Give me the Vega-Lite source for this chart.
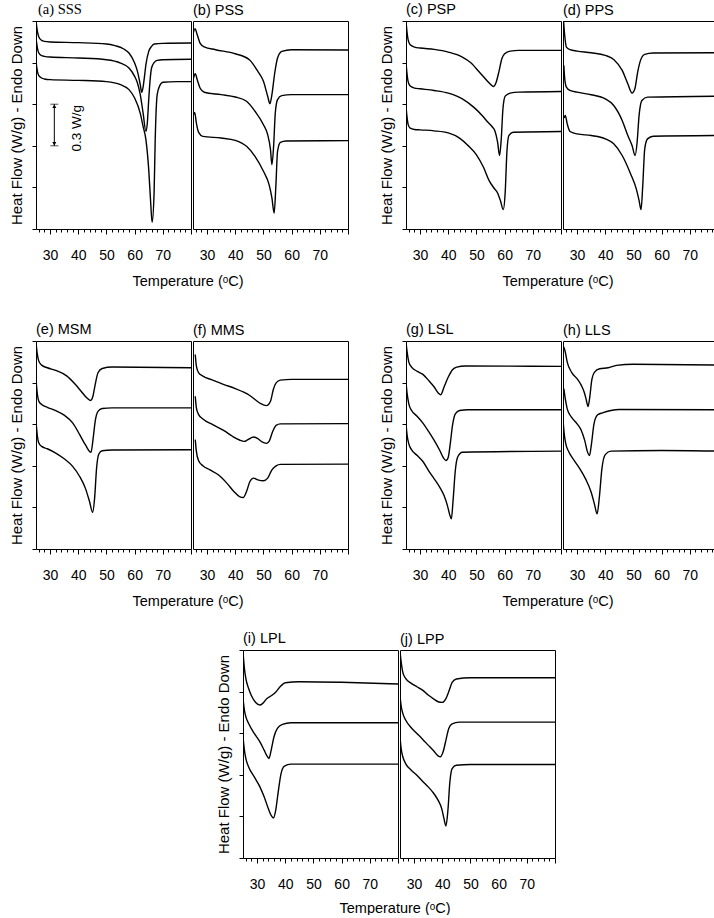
{
"$schema": "https://vega.github.io/schema/vega-lite/v6.json",
"background": "white",
"padding": {"left": 9, "top": 1, "right": 0, "bottom": 0},
"config": {
 "font": "Liberation Sans",
 "view": {"stroke": "black", "strokeWidth": 1},
 "axis": {"domain": false, "grid": false, "tickColor": "black", "labelColor": "black", "titleColor": "black", "titleFontWeight": "normal", "labelFont": "Liberation Sans", "titleFont": "Liberation Sans", "tickWidth": 1},
 "title": {"anchor": "start", "frame": "group", "fontSize": 14.5, "fontWeight": "normal", "font": "Liberation Sans", "offset": 3, "color": "black"}
},
"datasets": {
"dsc": [
{"panel":"a","run":1,"T":25,"hf":1.5},{"panel":"a","run":1,"T":25.5,"hf":1.425},{"panel":"a","run":1,"T":26,"hf":1.385},{"panel":"a","run":1,"T":27,"hf":1.36},{"panel":"a","run":1,"T":28,"hf":1.353},{"panel":"a","run":1,"T":30,"hf":1.349},{"panel":"a","run":1,"T":40,"hf":1.344},{"panel":"a","run":1,"T":50,"hf":1.334},{"panel":"a","run":1,"T":53,"hf":1.322},{"panel":"a","run":1,"T":56,"hf":1.3},{"panel":"a","run":1,"T":58,"hf":1.269},{"panel":"a","run":1,"T":60,"hf":1.197},{"panel":"a","run":1,"T":61,"hf":1.137},{"panel":"a","run":1,"T":62,"hf":1.041},{"panel":"a","run":1,"T":62.5,"hf":0.986},{"panel":"a","run":1,"T":63,"hf":1.024},{"panel":"a","run":1,"T":63.5,"hf":1.101},{"panel":"a","run":1,"T":64,"hf":1.185},{"panel":"a","run":1,"T":65,"hf":1.281},{"panel":"a","run":1,"T":66,"hf":1.317},{"panel":"a","run":1,"T":67,"hf":1.334},{"panel":"a","run":1,"T":70,"hf":1.339},{"panel":"a","run":1,"T":80,"hf":1.341},
{"panel":"a","run":2,"T":25,"hf":1.377},{"panel":"a","run":2,"T":25.5,"hf":1.305},{"panel":"a","run":2,"T":26,"hf":1.269},{"panel":"a","run":2,"T":27,"hf":1.25},{"panel":"a","run":2,"T":28,"hf":1.245},{"panel":"a","run":2,"T":30,"hf":1.24},{"panel":"a","run":2,"T":40,"hf":1.233},{"panel":"a","run":2,"T":50,"hf":1.221},{"panel":"a","run":2,"T":55,"hf":1.197},{"panel":"a","run":2,"T":58,"hf":1.161},{"panel":"a","run":2,"T":60,"hf":1.101},{"panel":"a","run":2,"T":61,"hf":1.053},{"panel":"a","run":2,"T":62,"hf":0.969},{"panel":"a","run":2,"T":63,"hf":0.837},{"panel":"a","run":2,"T":64,"hf":0.704},{"panel":"a","run":2,"T":64.5,"hf":0.764},{"panel":"a","run":2,"T":65,"hf":0.933},{"panel":"a","run":2,"T":65.5,"hf":1.077},{"panel":"a","run":2,"T":66,"hf":1.161},{"panel":"a","run":2,"T":67,"hf":1.202},{"panel":"a","run":2,"T":68,"hf":1.216},{"panel":"a","run":2,"T":70,"hf":1.221},{"panel":"a","run":2,"T":80,"hf":1.224},
{"panel":"a","run":3,"T":25,"hf":1.207},{"panel":"a","run":3,"T":25.5,"hf":1.137},{"panel":"a","run":3,"T":26,"hf":1.106},{"panel":"a","run":3,"T":27,"hf":1.089},{"panel":"a","run":3,"T":28,"hf":1.082},{"panel":"a","run":3,"T":30,"hf":1.077},{"panel":"a","run":3,"T":40,"hf":1.072},{"panel":"a","run":3,"T":50,"hf":1.063},{"panel":"a","run":3,"T":55,"hf":1.041},{"panel":"a","run":3,"T":58,"hf":1.005},{"panel":"a","run":3,"T":60,"hf":0.945},{"panel":"a","run":3,"T":62,"hf":0.834},{"panel":"a","run":3,"T":63,"hf":0.74},{"panel":"a","run":3,"T":64,"hf":0.644},{"panel":"a","run":3,"T":65,"hf":0.428},{"panel":"a","run":3,"T":65.7,"hf":0.188},{"panel":"a","run":3,"T":66.2,"hf":0.048},{"panel":"a","run":3,"T":66.9,"hf":0.26},{"panel":"a","run":3,"T":67.3,"hf":0.644},{"panel":"a","run":3,"T":68,"hf":0.969},{"panel":"a","run":3,"T":69,"hf":1.038},{"panel":"a","run":3,"T":70,"hf":1.058},{"panel":"a","run":3,"T":75,"hf":1.063},{"panel":"a","run":3,"T":80,"hf":1.063},
{"panel":"b","run":1,"T":25.1,"hf":1.413},{"panel":"b","run":1,"T":25.7,"hf":1.445},{"panel":"b","run":1,"T":26.5,"hf":1.401},{"panel":"b","run":1,"T":27.5,"hf":1.341},{"panel":"b","run":1,"T":29,"hf":1.313},{"panel":"b","run":1,"T":33,"hf":1.293},{"panel":"b","run":1,"T":40,"hf":1.264},{"panel":"b","run":1,"T":45,"hf":1.221},{"panel":"b","run":1,"T":48,"hf":1.137},{"panel":"b","run":1,"T":50,"hf":1.065},{"panel":"b","run":1,"T":51.5,"hf":0.957},{"panel":"b","run":1,"T":52.3,"hf":0.904},{"panel":"b","run":1,"T":53,"hf":0.969},{"panel":"b","run":1,"T":54,"hf":1.125},{"panel":"b","run":1,"T":55,"hf":1.233},{"panel":"b","run":1,"T":56.5,"hf":1.281},{"panel":"b","run":1,"T":60,"hf":1.293},{"panel":"b","run":1,"T":80,"hf":1.291},
{"panel":"b","run":2,"T":25.2,"hf":1.089},{"panel":"b","run":2,"T":25.8,"hf":1.12},{"panel":"b","run":2,"T":26.5,"hf":1.077},{"panel":"b","run":2,"T":27.5,"hf":1.017},{"panel":"b","run":2,"T":29,"hf":0.986},{"panel":"b","run":2,"T":35,"hf":0.969},{"panel":"b","run":2,"T":40,"hf":0.952},{"panel":"b","run":2,"T":44,"hf":0.921},{"panel":"b","run":2,"T":47,"hf":0.849},{"panel":"b","run":2,"T":50,"hf":0.752},{"panel":"b","run":2,"T":51.5,"hf":0.68},{"panel":"b","run":2,"T":52.5,"hf":0.572},{"panel":"b","run":2,"T":53,"hf":0.464},{"panel":"b","run":2,"T":53.6,"hf":0.596},{"panel":"b","run":2,"T":54.2,"hf":0.837},{"panel":"b","run":2,"T":55,"hf":0.933},{"panel":"b","run":2,"T":56.5,"hf":0.962},{"panel":"b","run":2,"T":60,"hf":0.969},{"panel":"b","run":2,"T":80,"hf":0.969},
{"panel":"b","run":3,"T":25.3,"hf":0.825},{"panel":"b","run":3,"T":25.6,"hf":0.841},{"panel":"b","run":3,"T":26.2,"hf":0.764},{"panel":"b","run":3,"T":27,"hf":0.697},{"panel":"b","run":3,"T":28.5,"hf":0.668},{"panel":"b","run":3,"T":35,"hf":0.656},{"panel":"b","run":3,"T":40,"hf":0.639},{"panel":"b","run":3,"T":44,"hf":0.596},{"panel":"b","run":3,"T":47,"hf":0.524},{"panel":"b","run":3,"T":50,"hf":0.416},{"panel":"b","run":3,"T":52,"hf":0.32},{"panel":"b","run":3,"T":53,"hf":0.224},{"panel":"b","run":3,"T":53.8,"hf":0.115},{"panel":"b","run":3,"T":54.4,"hf":0.308},{"panel":"b","run":3,"T":55,"hf":0.56},{"panel":"b","run":3,"T":56,"hf":0.625},{"panel":"b","run":3,"T":58,"hf":0.635},{"panel":"b","run":3,"T":80,"hf":0.637},
{"panel":"c","run":1,"T":25,"hf":1.5},{"panel":"c","run":1,"T":25.3,"hf":1.433},{"panel":"c","run":1,"T":25.8,"hf":1.36},{"panel":"c","run":1,"T":26.5,"hf":1.329},{"panel":"c","run":1,"T":28,"hf":1.312},{"panel":"c","run":1,"T":30,"hf":1.305},{"panel":"c","run":1,"T":35,"hf":1.295},{"panel":"c","run":1,"T":40,"hf":1.276},{"panel":"c","run":1,"T":45,"hf":1.24},{"panel":"c","run":1,"T":48,"hf":1.199},{"panel":"c","run":1,"T":51,"hf":1.132},{"panel":"c","run":1,"T":54,"hf":1.064},{"panel":"c","run":1,"T":55,"hf":1.043},{"panel":"c","run":1,"T":56,"hf":1.028},{"panel":"c","run":1,"T":57,"hf":1.059},{"panel":"c","run":1,"T":58,"hf":1.137},{"panel":"c","run":1,"T":59,"hf":1.228},{"panel":"c","run":1,"T":60,"hf":1.264},{"panel":"c","run":1,"T":62,"hf":1.283},{"panel":"c","run":1,"T":65,"hf":1.288},{"panel":"c","run":1,"T":80,"hf":1.288},
{"panel":"c","run":2,"T":25,"hf":1.204},{"panel":"c","run":2,"T":25.3,"hf":1.132},{"panel":"c","run":2,"T":25.8,"hf":1.059},{"panel":"c","run":2,"T":26.5,"hf":1.031},{"panel":"c","run":2,"T":28,"hf":1.016},{"panel":"c","run":2,"T":30,"hf":1.011},{"panel":"c","run":2,"T":35,"hf":0.999},{"panel":"c","run":2,"T":40,"hf":0.98},{"panel":"c","run":2,"T":45,"hf":0.939},{"panel":"c","run":2,"T":49,"hf":0.879},{"panel":"c","run":2,"T":52,"hf":0.819},{"panel":"c","run":2,"T":54,"hf":0.771},{"panel":"c","run":2,"T":55.5,"hf":0.739},{"panel":"c","run":2,"T":56.5,"hf":0.71},{"panel":"c","run":2,"T":57.5,"hf":0.626},{"panel":"c","run":2,"T":58.2,"hf":0.53},{"panel":"c","run":2,"T":58.8,"hf":0.65},{"panel":"c","run":2,"T":59.4,"hf":0.867},{"panel":"c","run":2,"T":60.2,"hf":0.958},{"panel":"c","run":2,"T":62,"hf":0.98},{"panel":"c","run":2,"T":65,"hf":0.987},{"panel":"c","run":2,"T":80,"hf":0.992},
{"panel":"c","run":3,"T":25,"hf":0.891},{"panel":"c","run":3,"T":25.3,"hf":0.819},{"panel":"c","run":3,"T":25.8,"hf":0.751},{"panel":"c","run":3,"T":26.5,"hf":0.727},{"panel":"c","run":3,"T":28,"hf":0.718},{"panel":"c","run":3,"T":30,"hf":0.715},{"panel":"c","run":3,"T":35,"hf":0.708},{"panel":"c","run":3,"T":40,"hf":0.693},{"panel":"c","run":3,"T":44,"hf":0.655},{"panel":"c","run":3,"T":47,"hf":0.602},{"panel":"c","run":3,"T":50,"hf":0.535},{"panel":"c","run":3,"T":52.5,"hf":0.445},{"panel":"c","run":3,"T":54.5,"hf":0.349},{"panel":"c","run":3,"T":56,"hf":0.301},{"panel":"c","run":3,"T":57.5,"hf":0.26},{"panel":"c","run":3,"T":58.5,"hf":0.205},{"panel":"c","run":3,"T":59.5,"hf":0.14},{"panel":"c","run":3,"T":60.2,"hf":0.265},{"panel":"c","run":3,"T":60.8,"hf":0.554},{"panel":"c","run":3,"T":61.5,"hf":0.674},{"panel":"c","run":3,"T":63,"hf":0.698},{"panel":"c","run":3,"T":80,"hf":0.703},
{"panel":"d","run":1,"T":25.2,"hf":1.5},{"panel":"d","run":1,"T":25.6,"hf":1.397},{"panel":"d","run":1,"T":26.2,"hf":1.312},{"panel":"d","run":1,"T":27.5,"hf":1.293},{"panel":"d","run":1,"T":30,"hf":1.283},{"panel":"d","run":1,"T":35,"hf":1.271},{"panel":"d","run":1,"T":40,"hf":1.252},{"panel":"d","run":1,"T":43,"hf":1.223},{"panel":"d","run":1,"T":46,"hf":1.144},{"panel":"d","run":1,"T":48,"hf":1.047},{"panel":"d","run":1,"T":49.5,"hf":0.98},{"panel":"d","run":1,"T":50.5,"hf":1.011},{"panel":"d","run":1,"T":51.5,"hf":1.132},{"panel":"d","run":1,"T":52.5,"hf":1.216},{"panel":"d","run":1,"T":54,"hf":1.259},{"panel":"d","run":1,"T":57,"hf":1.269},{"panel":"d","run":1,"T":80,"hf":1.271},
{"panel":"d","run":2,"T":25.3,"hf":1.18},{"panel":"d","run":2,"T":25.6,"hf":1.084},{"panel":"d","run":2,"T":26.2,"hf":1.023},{"panel":"d","run":2,"T":27.5,"hf":0.999},{"panel":"d","run":2,"T":30,"hf":0.987},{"panel":"d","run":2,"T":35,"hf":0.968},{"panel":"d","run":2,"T":40,"hf":0.939},{"panel":"d","run":2,"T":43,"hf":0.891},{"panel":"d","run":2,"T":46,"hf":0.783},{"panel":"d","run":2,"T":48,"hf":0.674},{"panel":"d","run":2,"T":49.5,"hf":0.602},{"panel":"d","run":2,"T":50.6,"hf":0.53},{"panel":"d","run":2,"T":51.3,"hf":0.626},{"panel":"d","run":2,"T":52,"hf":0.819},{"panel":"d","run":2,"T":53,"hf":0.927},{"panel":"d","run":2,"T":55,"hf":0.951},{"panel":"d","run":2,"T":80,"hf":0.958},
{"panel":"d","run":3,"T":25.4,"hf":0.8},{"panel":"d","run":3,"T":25.8,"hf":0.819},{"panel":"d","run":3,"T":26.5,"hf":0.758},{"panel":"d","run":3,"T":27.5,"hf":0.703},{"panel":"d","run":3,"T":30,"hf":0.686},{"panel":"d","run":3,"T":35,"hf":0.674},{"panel":"d","run":3,"T":40,"hf":0.65},{"panel":"d","run":3,"T":43,"hf":0.614},{"panel":"d","run":3,"T":46,"hf":0.53},{"panel":"d","run":3,"T":49,"hf":0.397},{"panel":"d","run":3,"T":51,"hf":0.289},{"panel":"d","run":3,"T":52,"hf":0.205},{"panel":"d","run":3,"T":52.7,"hf":0.14},{"panel":"d","run":3,"T":53.3,"hf":0.313},{"panel":"d","run":3,"T":54,"hf":0.578},{"panel":"d","run":3,"T":55,"hf":0.65},{"panel":"d","run":3,"T":57,"hf":0.669},{"panel":"d","run":3,"T":80,"hf":0.674},
{"panel":"e","run":1,"T":25,"hf":1.488},{"panel":"e","run":1,"T":25.4,"hf":1.415},{"panel":"e","run":1,"T":26,"hf":1.355},{"panel":"e","run":1,"T":27,"hf":1.326},{"panel":"e","run":1,"T":29,"hf":1.307},{"panel":"e","run":1,"T":32,"hf":1.288},{"panel":"e","run":1,"T":36,"hf":1.247},{"panel":"e","run":1,"T":39,"hf":1.186},{"panel":"e","run":1,"T":41,"hf":1.138},{"panel":"e","run":1,"T":43,"hf":1.09},{"panel":"e","run":1,"T":44.3,"hf":1.071},{"panel":"e","run":1,"T":45.2,"hf":1.102},{"panel":"e","run":1,"T":46,"hf":1.186},{"panel":"e","run":1,"T":47,"hf":1.271},{"panel":"e","run":1,"T":48.5,"hf":1.302},{"panel":"e","run":1,"T":52,"hf":1.312},{"panel":"e","run":1,"T":80,"hf":1.307},
{"panel":"e","run":2,"T":25.1,"hf":1.198},{"panel":"e","run":2,"T":25.5,"hf":1.114},{"panel":"e","run":2,"T":26,"hf":1.066},{"panel":"e","run":2,"T":27,"hf":1.042},{"panel":"e","run":2,"T":29,"hf":1.022},{"panel":"e","run":2,"T":32,"hf":0.998},{"panel":"e","run":2,"T":35,"hf":0.965},{"panel":"e","run":2,"T":38,"hf":0.909},{"panel":"e","run":2,"T":40.5,"hf":0.825},{"panel":"e","run":2,"T":42.5,"hf":0.752},{"panel":"e","run":2,"T":44.5,"hf":0.697},{"panel":"e","run":2,"T":45.3,"hf":0.801},{"panel":"e","run":2,"T":46,"hf":0.921},{"panel":"e","run":2,"T":47,"hf":0.993},{"panel":"e","run":2,"T":48.5,"hf":1.013},{"panel":"e","run":2,"T":52,"hf":1.018},{"panel":"e","run":2,"T":80,"hf":1.018},
{"panel":"e","run":3,"T":25.1,"hf":0.897},{"panel":"e","run":3,"T":25.5,"hf":0.813},{"panel":"e","run":3,"T":26,"hf":0.764},{"panel":"e","run":3,"T":27,"hf":0.74},{"panel":"e","run":3,"T":29,"hf":0.723},{"panel":"e","run":3,"T":32,"hf":0.692},{"panel":"e","run":3,"T":35,"hf":0.651},{"panel":"e","run":3,"T":38,"hf":0.596},{"panel":"e","run":3,"T":40.5,"hf":0.523},{"panel":"e","run":3,"T":42.5,"hf":0.439},{"panel":"e","run":3,"T":44,"hf":0.342},{"panel":"e","run":3,"T":45.1,"hf":0.265},{"panel":"e","run":3,"T":45.8,"hf":0.367},{"panel":"e","run":3,"T":46.5,"hf":0.584},{"panel":"e","run":3,"T":47.3,"hf":0.685},{"panel":"e","run":3,"T":48.5,"hf":0.709},{"panel":"e","run":3,"T":52,"hf":0.714},{"panel":"e","run":3,"T":80,"hf":0.716},
{"panel":"f","run":1,"T":25.8,"hf":1.403},{"panel":"f","run":1,"T":26.2,"hf":1.319},{"panel":"f","run":1,"T":27,"hf":1.271},{"panel":"f","run":1,"T":28.5,"hf":1.247},{"panel":"f","run":1,"T":32,"hf":1.218},{"panel":"f","run":1,"T":36,"hf":1.186},{"panel":"f","run":1,"T":40,"hf":1.157},{"panel":"f","run":1,"T":43,"hf":1.131},{"panel":"f","run":1,"T":45,"hf":1.109},{"panel":"f","run":1,"T":47,"hf":1.078},{"panel":"f","run":1,"T":49,"hf":1.049},{"panel":"f","run":1,"T":51,"hf":1.034},{"panel":"f","run":1,"T":52.5,"hf":1.066},{"panel":"f","run":1,"T":53.5,"hf":1.15},{"panel":"f","run":1,"T":54.5,"hf":1.198},{"panel":"f","run":1,"T":56,"hf":1.218},{"panel":"f","run":1,"T":60,"hf":1.223},{"panel":"f","run":1,"T":80,"hf":1.223},
{"panel":"f","run":2,"T":25.8,"hf":1.102},{"panel":"f","run":2,"T":26.2,"hf":1.018},{"panel":"f","run":2,"T":27,"hf":0.969},{"panel":"f","run":2,"T":28.5,"hf":0.938},{"panel":"f","run":2,"T":32,"hf":0.897},{"panel":"f","run":2,"T":36,"hf":0.854},{"panel":"f","run":2,"T":39,"hf":0.813},{"panel":"f","run":2,"T":41.5,"hf":0.786},{"panel":"f","run":2,"T":43.2,"hf":0.776},{"panel":"f","run":2,"T":44.5,"hf":0.789},{"panel":"f","run":2,"T":46.5,"hf":0.808},{"panel":"f","run":2,"T":48,"hf":0.796},{"panel":"f","run":2,"T":49.5,"hf":0.772},{"panel":"f","run":2,"T":51,"hf":0.762},{"panel":"f","run":2,"T":52,"hf":0.776},{"panel":"f","run":2,"T":53.3,"hf":0.849},{"panel":"f","run":2,"T":54.5,"hf":0.892},{"panel":"f","run":2,"T":56,"hf":0.902},{"panel":"f","run":2,"T":80,"hf":0.904},
{"panel":"f","run":3,"T":25.8,"hf":0.789},{"panel":"f","run":3,"T":26.2,"hf":0.704},{"panel":"f","run":3,"T":27,"hf":0.637},{"panel":"f","run":3,"T":28.5,"hf":0.6},{"panel":"f","run":3,"T":31,"hf":0.571},{"panel":"f","run":3,"T":34,"hf":0.535},{"panel":"f","run":3,"T":37,"hf":0.475},{"panel":"f","run":3,"T":39.5,"hf":0.415},{"panel":"f","run":3,"T":41.5,"hf":0.378},{"panel":"f","run":3,"T":42.8,"hf":0.371},{"panel":"f","run":3,"T":44,"hf":0.415},{"panel":"f","run":3,"T":45.2,"hf":0.487},{"panel":"f","run":3,"T":46.5,"hf":0.511},{"panel":"f","run":3,"T":48,"hf":0.499},{"panel":"f","run":3,"T":50,"hf":0.492},{"panel":"f","run":3,"T":51.5,"hf":0.511},{"panel":"f","run":3,"T":53,"hf":0.571},{"panel":"f","run":3,"T":54.5,"hf":0.6},{"panel":"f","run":3,"T":56,"hf":0.61},{"panel":"f","run":3,"T":80,"hf":0.612},
{"panel":"g","run":1,"T":25,"hf":1.493},{"panel":"g","run":1,"T":25.4,"hf":1.421},{"panel":"g","run":1,"T":26,"hf":1.348},{"panel":"g","run":1,"T":27,"hf":1.312},{"panel":"g","run":1,"T":29,"hf":1.281},{"panel":"g","run":1,"T":31,"hf":1.259},{"panel":"g","run":1,"T":33,"hf":1.216},{"panel":"g","run":1,"T":35,"hf":1.168},{"panel":"g","run":1,"T":36.5,"hf":1.124},{"panel":"g","run":1,"T":37.3,"hf":1.112},{"panel":"g","run":1,"T":38.5,"hf":1.168},{"panel":"g","run":1,"T":40,"hf":1.24},{"panel":"g","run":1,"T":41.5,"hf":1.293},{"panel":"g","run":1,"T":43,"hf":1.312},{"panel":"g","run":1,"T":46,"hf":1.32},{"panel":"g","run":1,"T":80,"hf":1.317},
{"panel":"g","run":2,"T":25,"hf":1.204},{"panel":"g","run":2,"T":25.4,"hf":1.12},{"panel":"g","run":2,"T":26,"hf":1.047},{"panel":"g","run":2,"T":27,"hf":0.999},{"panel":"g","run":2,"T":29,"hf":0.956},{"panel":"g","run":2,"T":31,"hf":0.908},{"panel":"g","run":2,"T":33,"hf":0.848},{"panel":"g","run":2,"T":35,"hf":0.783},{"panel":"g","run":2,"T":37,"hf":0.71},{"panel":"g","run":2,"T":38.3,"hf":0.657},{"panel":"g","run":2,"T":39.2,"hf":0.638},{"panel":"g","run":2,"T":40,"hf":0.662},{"panel":"g","run":2,"T":40.7,"hf":0.758},{"panel":"g","run":2,"T":41.5,"hf":0.891},{"panel":"g","run":2,"T":42.5,"hf":0.975},{"panel":"g","run":2,"T":44,"hf":0.999},{"panel":"g","run":2,"T":47,"hf":1.004},{"panel":"g","run":2,"T":80,"hf":1.004},
{"panel":"g","run":3,"T":25,"hf":0.903},{"panel":"g","run":3,"T":25.4,"hf":0.819},{"panel":"g","run":3,"T":26,"hf":0.758},{"panel":"g","run":3,"T":27,"hf":0.715},{"panel":"g","run":3,"T":29,"hf":0.674},{"panel":"g","run":3,"T":31,"hf":0.631},{"panel":"g","run":3,"T":33,"hf":0.566},{"panel":"g","run":3,"T":35,"hf":0.506},{"panel":"g","run":3,"T":37,"hf":0.445},{"panel":"g","run":3,"T":38.5,"hf":0.385},{"panel":"g","run":3,"T":39.7,"hf":0.313},{"panel":"g","run":3,"T":40.5,"hf":0.248},{"panel":"g","run":3,"T":41.1,"hf":0.217},{"panel":"g","run":3,"T":41.7,"hf":0.349},{"panel":"g","run":3,"T":42.5,"hf":0.566},{"panel":"g","run":3,"T":43.3,"hf":0.662},{"panel":"g","run":3,"T":45,"hf":0.698},{"panel":"g","run":3,"T":80,"hf":0.706},
{"panel":"h","run":1,"T":25.3,"hf":1.457},{"panel":"h","run":1,"T":25.8,"hf":1.421},{"panel":"h","run":1,"T":26.5,"hf":1.348},{"panel":"h","run":1,"T":28,"hf":1.276},{"panel":"h","run":1,"T":30,"hf":1.228},{"panel":"h","run":1,"T":31.5,"hf":1.18},{"panel":"h","run":1,"T":32.7,"hf":1.12},{"panel":"h","run":1,"T":33.3,"hf":1.071},{"panel":"h","run":1,"T":33.9,"hf":1.028},{"panel":"h","run":1,"T":34.5,"hf":1.095},{"panel":"h","run":1,"T":35.2,"hf":1.216},{"panel":"h","run":1,"T":36.2,"hf":1.276},{"panel":"h","run":1,"T":38,"hf":1.3},{"panel":"h","run":1,"T":41,"hf":1.307},{"panel":"h","run":1,"T":44,"hf":1.324},{"panel":"h","run":1,"T":50,"hf":1.332},{"panel":"h","run":1,"T":80,"hf":1.327},
{"panel":"h","run":2,"T":25.3,"hf":1.156},{"panel":"h","run":2,"T":25.8,"hf":1.084},{"panel":"h","run":2,"T":26.5,"hf":1.011},{"panel":"h","run":2,"T":28,"hf":0.951},{"panel":"h","run":2,"T":30,"hf":0.903},{"panel":"h","run":2,"T":31.5,"hf":0.855},{"panel":"h","run":2,"T":32.7,"hf":0.783},{"panel":"h","run":2,"T":33.6,"hf":0.706},{"panel":"h","run":2,"T":34.4,"hf":0.674},{"panel":"h","run":2,"T":35.1,"hf":0.758},{"panel":"h","run":2,"T":36,"hf":0.903},{"panel":"h","run":2,"T":37.3,"hf":0.968},{"panel":"h","run":2,"T":39,"hf":0.982},{"panel":"h","run":2,"T":42,"hf":0.999},{"panel":"h","run":2,"T":45,"hf":1.006},{"panel":"h","run":2,"T":80,"hf":1.004},
{"panel":"h","run":3,"T":25.1,"hf":0.903},{"panel":"h","run":3,"T":25.5,"hf":0.819},{"panel":"h","run":3,"T":26,"hf":0.758},{"panel":"h","run":3,"T":27,"hf":0.703},{"panel":"h","run":3,"T":29,"hf":0.638},{"panel":"h","run":3,"T":31,"hf":0.578},{"panel":"h","run":3,"T":33,"hf":0.506},{"panel":"h","run":3,"T":35,"hf":0.409},{"panel":"h","run":3,"T":36.2,"hf":0.32},{"panel":"h","run":3,"T":37.1,"hf":0.253},{"panel":"h","run":3,"T":37.9,"hf":0.373},{"panel":"h","run":3,"T":38.8,"hf":0.578},{"panel":"h","run":3,"T":40,"hf":0.681},{"panel":"h","run":3,"T":42,"hf":0.706},{"panel":"h","run":3,"T":60,"hf":0.71},{"panel":"h","run":3,"T":80,"hf":0.706},
{"panel":"i","run":1,"T":25,"hf":1.488},{"panel":"i","run":1,"T":25.5,"hf":1.368},{"panel":"i","run":1,"T":26,"hf":1.295},{"panel":"i","run":1,"T":27,"hf":1.223},{"panel":"i","run":1,"T":28,"hf":1.17},{"panel":"i","run":1,"T":29.5,"hf":1.122},{"panel":"i","run":1,"T":31,"hf":1.103},{"panel":"i","run":1,"T":32,"hf":1.115},{"panel":"i","run":1,"T":33.5,"hf":1.151},{"panel":"i","run":1,"T":35,"hf":1.17},{"panel":"i","run":1,"T":36.5,"hf":1.194},{"panel":"i","run":1,"T":38.5,"hf":1.242},{"panel":"i","run":1,"T":40,"hf":1.264},{"panel":"i","run":1,"T":45,"hf":1.271},{"panel":"i","run":1,"T":60,"hf":1.267},{"panel":"i","run":1,"T":80,"hf":1.255},
{"panel":"i","run":2,"T":25,"hf":1.151},{"panel":"i","run":2,"T":25.5,"hf":1.067},{"panel":"i","run":2,"T":26,"hf":1.019},{"panel":"i","run":2,"T":27,"hf":0.97},{"panel":"i","run":2,"T":29,"hf":0.898},{"panel":"i","run":2,"T":31,"hf":0.838},{"panel":"i","run":2,"T":32.5,"hf":0.778},{"panel":"i","run":2,"T":33.5,"hf":0.737},{"panel":"i","run":2,"T":34.2,"hf":0.718},{"panel":"i","run":2,"T":35,"hf":0.778},{"panel":"i","run":2,"T":36,"hf":0.874},{"panel":"i","run":2,"T":37.2,"hf":0.934},{"panel":"i","run":2,"T":39,"hf":0.963},{"panel":"i","run":2,"T":42,"hf":0.975},{"panel":"i","run":2,"T":80,"hf":0.975},
{"panel":"i","run":3,"T":25,"hf":0.874},{"panel":"i","run":3,"T":25.5,"hf":0.778},{"panel":"i","run":3,"T":26,"hf":0.718},{"panel":"i","run":3,"T":27,"hf":0.657},{"panel":"i","run":3,"T":29,"hf":0.585},{"panel":"i","run":3,"T":31,"hf":0.513},{"panel":"i","run":3,"T":32.5,"hf":0.441},{"panel":"i","run":3,"T":34,"hf":0.356},{"panel":"i","run":3,"T":35.1,"hf":0.303},{"panel":"i","run":3,"T":35.8,"hf":0.289},{"panel":"i","run":3,"T":36.6,"hf":0.344},{"panel":"i","run":3,"T":37.5,"hf":0.477},{"panel":"i","run":3,"T":38.5,"hf":0.609},{"panel":"i","run":3,"T":39.7,"hf":0.662},{"panel":"i","run":3,"T":42,"hf":0.677},{"panel":"i","run":3,"T":80,"hf":0.677},
{"panel":"j","run":1,"T":25,"hf":1.488},{"panel":"j","run":1,"T":25.4,"hf":1.416},{"panel":"j","run":1,"T":26,"hf":1.339},{"panel":"j","run":1,"T":27,"hf":1.295},{"panel":"j","run":1,"T":29,"hf":1.259},{"panel":"j","run":1,"T":31,"hf":1.235},{"panel":"j","run":1,"T":33,"hf":1.211},{"panel":"j","run":1,"T":35,"hf":1.175},{"panel":"j","run":1,"T":37,"hf":1.146},{"panel":"j","run":1,"T":38.5,"hf":1.127},{"panel":"j","run":1,"T":40,"hf":1.122},{"panel":"j","run":1,"T":41.2,"hf":1.146},{"panel":"j","run":1,"T":42.5,"hf":1.211},{"panel":"j","run":1,"T":43.5,"hf":1.267},{"panel":"j","run":1,"T":45,"hf":1.291},{"panel":"j","run":1,"T":50,"hf":1.3},{"panel":"j","run":1,"T":80,"hf":1.3},
{"panel":"j","run":2,"T":25,"hf":1.17},{"panel":"j","run":2,"T":25.4,"hf":1.098},{"panel":"j","run":2,"T":26,"hf":1.043},{"panel":"j","run":2,"T":27,"hf":0.995},{"panel":"j","run":2,"T":29,"hf":0.939},{"panel":"j","run":2,"T":31,"hf":0.898},{"panel":"j","run":2,"T":33,"hf":0.857},{"panel":"j","run":2,"T":35,"hf":0.814},{"panel":"j","run":2,"T":37,"hf":0.771},{"panel":"j","run":2,"T":38.5,"hf":0.737},{"panel":"j","run":2,"T":39.3,"hf":0.73},{"panel":"j","run":2,"T":40.3,"hf":0.766},{"panel":"j","run":2,"T":41.3,"hf":0.85},{"panel":"j","run":2,"T":42.3,"hf":0.934},{"panel":"j","run":2,"T":43.5,"hf":0.968},{"panel":"j","run":2,"T":46,"hf":0.98},{"panel":"j","run":2,"T":80,"hf":0.98},
{"panel":"j","run":3,"T":25,"hf":0.874},{"panel":"j","run":3,"T":25.4,"hf":0.79},{"panel":"j","run":3,"T":26,"hf":0.73},{"panel":"j","run":3,"T":27,"hf":0.681},{"panel":"j","run":3,"T":29,"hf":0.633},{"panel":"j","run":3,"T":31,"hf":0.597},{"panel":"j","run":3,"T":33,"hf":0.554},{"panel":"j","run":3,"T":35,"hf":0.513},{"panel":"j","run":3,"T":37,"hf":0.465},{"panel":"j","run":3,"T":38.5,"hf":0.417},{"panel":"j","run":3,"T":39.8,"hf":0.356},{"panel":"j","run":3,"T":40.6,"hf":0.284},{"panel":"j","run":3,"T":41.3,"hf":0.231},{"panel":"j","run":3,"T":42,"hf":0.344},{"panel":"j","run":3,"T":42.7,"hf":0.549},{"panel":"j","run":3,"T":43.5,"hf":0.645},{"panel":"j","run":3,"T":45,"hf":0.669},{"panel":"j","run":3,"T":50,"hf":0.674},{"panel":"j","run":3,"T":80,"hf":0.674}
]
},
"vconcat": [
 {"vconcat": [
  {"hconcat": [
   {"hconcat": [
    {"width": 155, "height": 208, "title": {"text": "(a) SSS", "font": "Liberation Serif", "dx": 2},
     "encoding": {
      "x": {"field": "T", "type": "quantitative", "scale": {"domain": [25, 80], "nice": false, "zero": false}, "axis": {"values": [26,28,30,32,34,36,38,40,42,44,46,48,50,52,54,56,58,60,62,64,66,68,70,72,74,76,78,80], "labelExpr": "datum.value % 10 === 0 && datum.value < 75 ? datum.label : ''", "tickSize": {"condition": {"test": "datum.value % 10 === 0", "value": 5}, "value": 3}, "title": null, "labelFontSize": 14, "labelPadding": 14, "labelOverlap": false, "labelFlush": false}},
      "y": {"field": "hf", "type": "quantitative", "scale": {"domain": [0, 1.5], "nice": false, "zero": false}, "axis": {"values": [0,0.3,0.6,0.9,1.2,1.5], "labels": false, "tickSize": 4, "title": "Heat Flow (W/g) - Endo Down", "titleFontSize": 15, "titlePadding": 7}}},
     "layer": [
      {"data": {"name": "dsc"}, "transform": [{"filter": "datum.panel === 'a'"}],
       "mark": {"type": "line", "interpolate": "monotone", "color": "black", "strokeWidth": 1.4, "clip": true},
       "encoding": {"detail": {"field": "run", "type": "nominal"}}},
      {"data": {"values": [{"T": 31.5, "hf": 0.6, "hf2": 0.9}]}, "mark": {"type": "rule", "color": "black", "strokeWidth": 1},
       "encoding": {"y2": {"field": "hf2"}}},
      {"data": {"values": [{"T": 31.5, "hf": 0.6}, {"T": 31.5, "hf": 0.9}]}, "mark": {"type": "tick", "orient": "horizontal", "size": 8, "thickness": 1, "color": "black"}},
      {"data": {"values": [{"T": 31.5, "hf": 0.885, "dir": "up"}, {"T": 31.5, "hf": 0.615, "dir": "down"}]}, "mark": {"type": "point", "filled": true, "size": 16, "color": "black", "opacity": 1},
       "encoding": {"shape": {"field": "dir", "type": "nominal", "scale": {"domain": ["up", "down"], "range": ["triangle-up", "triangle-down"]}, "legend": null}}},
      {"data": {"values": [{"T": 39.6, "hf": 0.727, "label": "0.3 W/g"}]}, "mark": {"type": "text", "angle": 270, "fontSize": 13.5, "align": "center", "baseline": "middle", "color": "black", "font": "Liberation Sans"},
       "encoding": {"text": {"field": "label"}}}
     ]},
    {"width": 155, "height": 208, "title": {"text": "(b) PSS"}, "data": {"name": "dsc"}, "transform": [{"filter": "datum.panel === 'b'"}],
     "mark": {"type": "line", "interpolate": "monotone", "color": "black", "strokeWidth": 1.4, "clip": true},
     "encoding": {
      "x": {"field": "T", "type": "quantitative", "scale": {"domain": [25, 80], "nice": false, "zero": false}, "axis": {"values": [26,28,30,32,34,36,38,40,42,44,46,48,50,52,54,56,58,60,62,64,66,68,70,72,74,76,78,80], "labelExpr": "datum.value % 10 === 0 && datum.value < 75 ? datum.label : ''", "tickSize": {"condition": {"test": "datum.value % 10 === 0", "value": 5}, "value": 3}, "title": null, "labelFontSize": 14, "labelPadding": 14, "labelOverlap": false, "labelFlush": false}},
      "y": {"field": "hf", "type": "quantitative", "scale": {"domain": [0, 1.5], "nice": false, "zero": false}, "axis": null},
      "detail": {"field": "run", "type": "nominal"}}}
   ], "spacing": 0, "title": {"text": "Temperature (ᵒC)", "orient": "bottom", "anchor": "middle", "frame": "bounds", "dx": 9, "offset": 12}},
   {"hconcat": [
    {"width": 155, "height": 208, "title": {"text": "(c) PSP"}, "data": {"name": "dsc"}, "transform": [{"filter": "datum.panel === 'c'"}],
     "mark": {"type": "line", "interpolate": "monotone", "color": "black", "strokeWidth": 1.4, "clip": true},
     "encoding": {
      "x": {"field": "T", "type": "quantitative", "scale": {"domain": [25, 80], "nice": false, "zero": false}, "axis": {"values": [26,28,30,32,34,36,38,40,42,44,46,48,50,52,54,56,58,60,62,64,66,68,70,72,74,76,78,80], "labelExpr": "datum.value % 10 === 0 && datum.value < 75 ? datum.label : ''", "tickSize": {"condition": {"test": "datum.value % 10 === 0", "value": 5}, "value": 3}, "title": null, "labelFontSize": 14, "labelPadding": 14, "labelOverlap": false, "labelFlush": false}},
      "y": {"field": "hf", "type": "quantitative", "scale": {"domain": [0, 1.5], "nice": false, "zero": false}, "axis": {"values": [0,0.3,0.6,0.9,1.2,1.5], "labels": false, "tickSize": 4, "title": "Heat Flow (W/g) - Endo Down", "titleFontSize": 15, "titlePadding": 7}},
      "detail": {"field": "run", "type": "nominal"}}},
    {"width": 155, "height": 208, "title": {"text": "(d) PPS"}, "data": {"name": "dsc"}, "transform": [{"filter": "datum.panel === 'd'"}],
     "mark": {"type": "line", "interpolate": "monotone", "color": "black", "strokeWidth": 1.4, "clip": true},
     "encoding": {
      "x": {"field": "T", "type": "quantitative", "scale": {"domain": [25, 80], "nice": false, "zero": false}, "axis": {"values": [26,28,30,32,34,36,38,40,42,44,46,48,50,52,54,56,58,60,62,64,66,68,70,72,74,76,78,80], "labelExpr": "datum.value % 10 === 0 && datum.value < 75 ? datum.label : ''", "tickSize": {"condition": {"test": "datum.value % 10 === 0", "value": 5}, "value": 3}, "title": null, "labelFontSize": 14, "labelPadding": 14, "labelOverlap": false, "labelFlush": false}},
      "y": {"field": "hf", "type": "quantitative", "scale": {"domain": [0, 1.5], "nice": false, "zero": false}, "axis": null},
      "detail": {"field": "run", "type": "nominal"}}}
   ], "spacing": 0, "title": {"text": "Temperature (ᵒC)", "orient": "bottom", "anchor": "middle", "frame": "bounds", "dx": 9, "offset": 12}}
  ], "spacing": 30},
  {"hconcat": [
   {"hconcat": [
    {"width": 155, "height": 208, "title": {"text": "(e) MSM"}, "data": {"name": "dsc"}, "transform": [{"filter": "datum.panel === 'e'"}],
     "mark": {"type": "line", "interpolate": "monotone", "color": "black", "strokeWidth": 1.4, "clip": true},
     "encoding": {
      "x": {"field": "T", "type": "quantitative", "scale": {"domain": [25, 80], "nice": false, "zero": false}, "axis": {"values": [26,28,30,32,34,36,38,40,42,44,46,48,50,52,54,56,58,60,62,64,66,68,70,72,74,76,78,80], "labelExpr": "datum.value % 10 === 0 && datum.value < 75 ? datum.label : ''", "tickSize": {"condition": {"test": "datum.value % 10 === 0", "value": 5}, "value": 3}, "title": null, "labelFontSize": 14, "labelPadding": 14, "labelOverlap": false, "labelFlush": false}},
      "y": {"field": "hf", "type": "quantitative", "scale": {"domain": [0, 1.5], "nice": false, "zero": false}, "axis": {"values": [0,0.3,0.6,0.9,1.2,1.5], "labels": false, "tickSize": 4, "title": "Heat Flow (W/g) - Endo Down", "titleFontSize": 15, "titlePadding": 7}},
      "detail": {"field": "run", "type": "nominal"}}},
    {"width": 155, "height": 208, "title": {"text": "(f) MMS"}, "data": {"name": "dsc"}, "transform": [{"filter": "datum.panel === 'f'"}],
     "mark": {"type": "line", "interpolate": "monotone", "color": "black", "strokeWidth": 1.4, "clip": true},
     "encoding": {
      "x": {"field": "T", "type": "quantitative", "scale": {"domain": [25, 80], "nice": false, "zero": false}, "axis": {"values": [26,28,30,32,34,36,38,40,42,44,46,48,50,52,54,56,58,60,62,64,66,68,70,72,74,76,78,80], "labelExpr": "datum.value % 10 === 0 && datum.value < 75 ? datum.label : ''", "tickSize": {"condition": {"test": "datum.value % 10 === 0", "value": 5}, "value": 3}, "title": null, "labelFontSize": 14, "labelPadding": 14, "labelOverlap": false, "labelFlush": false}},
      "y": {"field": "hf", "type": "quantitative", "scale": {"domain": [0, 1.5], "nice": false, "zero": false}, "axis": null},
      "detail": {"field": "run", "type": "nominal"}}}
   ], "spacing": 0, "title": {"text": "Temperature (ᵒC)", "orient": "bottom", "anchor": "middle", "frame": "bounds", "dx": 9, "offset": 12}},
   {"hconcat": [
    {"width": 155, "height": 208, "title": {"text": "(g) LSL"}, "data": {"name": "dsc"}, "transform": [{"filter": "datum.panel === 'g'"}],
     "mark": {"type": "line", "interpolate": "monotone", "color": "black", "strokeWidth": 1.4, "clip": true},
     "encoding": {
      "x": {"field": "T", "type": "quantitative", "scale": {"domain": [25, 80], "nice": false, "zero": false}, "axis": {"values": [26,28,30,32,34,36,38,40,42,44,46,48,50,52,54,56,58,60,62,64,66,68,70,72,74,76,78,80], "labelExpr": "datum.value % 10 === 0 && datum.value < 75 ? datum.label : ''", "tickSize": {"condition": {"test": "datum.value % 10 === 0", "value": 5}, "value": 3}, "title": null, "labelFontSize": 14, "labelPadding": 14, "labelOverlap": false, "labelFlush": false}},
      "y": {"field": "hf", "type": "quantitative", "scale": {"domain": [0, 1.5], "nice": false, "zero": false}, "axis": {"values": [0,0.3,0.6,0.9,1.2,1.5], "labels": false, "tickSize": 4, "title": "Heat Flow (W/g) - Endo Down", "titleFontSize": 15, "titlePadding": 7}},
      "detail": {"field": "run", "type": "nominal"}}},
    {"width": 155, "height": 208, "title": {"text": "(h) LLS"}, "data": {"name": "dsc"}, "transform": [{"filter": "datum.panel === 'h'"}],
     "mark": {"type": "line", "interpolate": "monotone", "color": "black", "strokeWidth": 1.4, "clip": true},
     "encoding": {
      "x": {"field": "T", "type": "quantitative", "scale": {"domain": [25, 80], "nice": false, "zero": false}, "axis": {"values": [26,28,30,32,34,36,38,40,42,44,46,48,50,52,54,56,58,60,62,64,66,68,70,72,74,76,78,80], "labelExpr": "datum.value % 10 === 0 && datum.value < 75 ? datum.label : ''", "tickSize": {"condition": {"test": "datum.value % 10 === 0", "value": 5}, "value": 3}, "title": null, "labelFontSize": 14, "labelPadding": 14, "labelOverlap": false, "labelFlush": false}},
      "y": {"field": "hf", "type": "quantitative", "scale": {"domain": [0, 1.5], "nice": false, "zero": false}, "axis": null},
      "detail": {"field": "run", "type": "nominal"}}}
   ], "spacing": 0, "title": {"text": "Temperature (ᵒC)", "orient": "bottom", "anchor": "middle", "frame": "bounds", "dx": 9, "offset": 12}}
  ], "spacing": 30}
 ], "spacing": 33},
 {"hconcat": [
  {"width": 173, "height": 10, "data": {"values": []}, "mark": "point", "view": {"stroke": null}},
  {"hconcat": [
   {"width": 155, "height": 208, "title": {"text": "(i) LPL"}, "data": {"name": "dsc"}, "transform": [{"filter": "datum.panel === 'i'"}],
    "mark": {"type": "line", "interpolate": "monotone", "color": "black", "strokeWidth": 1.4, "clip": true},
    "encoding": {
     "x": {"field": "T", "type": "quantitative", "scale": {"domain": [25, 80], "nice": false, "zero": false}, "axis": {"values": [26,28,30,32,34,36,38,40,42,44,46,48,50,52,54,56,58,60,62,64,66,68,70,72,74,76,78,80], "labelExpr": "datum.value % 10 === 0 && datum.value < 75 ? datum.label : ''", "tickSize": {"condition": {"test": "datum.value % 10 === 0", "value": 5}, "value": 3}, "title": null, "labelFontSize": 14, "labelPadding": 14, "labelOverlap": false, "labelFlush": false}},
     "y": {"field": "hf", "type": "quantitative", "scale": {"domain": [0, 1.5], "nice": false, "zero": false}, "axis": {"values": [0,0.3,0.6,0.9,1.2,1.5], "labels": false, "tickSize": 4, "title": "Heat Flow (W/g) - Endo Down", "titleFontSize": 15, "titlePadding": 7}},
     "detail": {"field": "run", "type": "nominal"}}},
   {"width": 155, "height": 208, "title": {"text": "(j) LPP"}, "data": {"name": "dsc"}, "transform": [{"filter": "datum.panel === 'j'"}],
    "mark": {"type": "line", "interpolate": "monotone", "color": "black", "strokeWidth": 1.4, "clip": true},
    "encoding": {
     "x": {"field": "T", "type": "quantitative", "scale": {"domain": [25, 80], "nice": false, "zero": false}, "axis": {"values": [26,28,30,32,34,36,38,40,42,44,46,48,50,52,54,56,58,60,62,64,66,68,70,72,74,76,78,80], "labelExpr": "datum.value % 10 === 0 && datum.value < 75 ? datum.label : ''", "tickSize": {"condition": {"test": "datum.value % 10 === 0", "value": 5}, "value": 3}, "title": null, "labelFontSize": 14, "labelPadding": 14, "labelOverlap": false, "labelFlush": false}},
     "y": {"field": "hf", "type": "quantitative", "scale": {"domain": [0, 1.5], "nice": false, "zero": false}, "axis": null},
     "detail": {"field": "run", "type": "nominal"}}}
  ], "spacing": 0, "title": {"text": "Temperature (ᵒC)", "orient": "bottom", "anchor": "middle", "frame": "bounds", "dx": 9, "offset": 10}}
 ], "spacing": 7}
], "spacing": 22
}
